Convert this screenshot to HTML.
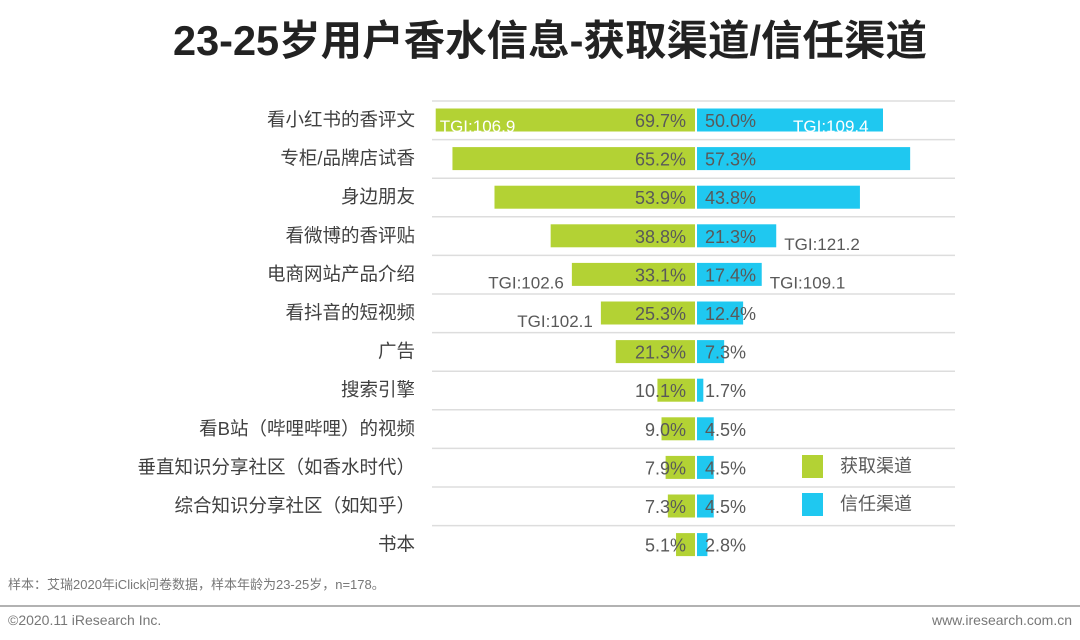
<!DOCTYPE html>
<html><head><meta charset="utf-8">
<style>
body{margin:0;width:1080px;height:635px;background:#fff;overflow:hidden;font-family:"Liberation Sans","Noto Sans CJK SC",sans-serif;}
</style></head>
<body>
<svg width="1080" height="635" xmlns="http://www.w3.org/2000/svg">
<text x="550" y="55" text-anchor="middle" font-size="41.5" font-weight="bold" fill="#222" font-family="Liberation Sans, Noto Sans CJK SC, sans-serif">23-25岁用户香水信息-获取渠道/信任渠道</text>
<g id="plot"></g>
<rect x="802" y="455" width="21" height="23" fill="#b3d234"/>
<text x="840" y="472" font-size="18" fill="#595959">获取渠道</text>
<rect x="802" y="493" width="21" height="23" fill="#1fc8f0"/>
<text x="840" y="510" font-size="18" fill="#595959">信任渠道</text>
<text x="8" y="589" font-size="13" fill="#777">样本：艾瑞2020年iClick问卷数据，样本年龄为23-25岁，n=178。</text>
<line x1="0" y1="606" x2="1080" y2="606" stroke="#999" stroke-width="1.5"/>
<text x="8" y="625" font-size="14" fill="#777">©2020.11 iResearch Inc.</text>
<text x="1072" y="625" font-size="14" fill="#777" text-anchor="end">www.iresearch.com.cn</text>
</svg>
<script>
const categories=["看小红书的香评文","专柜/品牌店试香","身边朋友","看微博的香评贴","电商网站产品介绍","看抖音的短视频","广告","搜索引擎","看B站（哔哩哔哩）的视频","垂直知识分享社区（如香水时代）","综合知识分享社区（如知乎）","书本"];
const acquire=[69.7,65.2,53.9,38.8,33.1,25.3,21.3,10.1,9.0,7.9,7.3,5.1];
const trust=[50.0,57.3,43.8,21.3,17.4,12.4,7.3,1.7,4.5,4.5,4.5,2.8];
const tgiAcquire=["106.9",null,null,null,"102.6","102.1",null,null,null,null,null,null];
const tgiTrust=["109.4",null,null,"121.2","109.1",null,null,null,null,null,null,null];
const NS="http://www.w3.org/2000/svg";
const g=document.getElementById('plot');
const cx=696, k=3.72, y0=120, step=38.6, bh=23;
const yc=i=>y0+i*step;
function mk(t,a){const e=document.createElementNS(NS,t);for(const n in a)e.setAttribute(n,a[n]);g.appendChild(e);return e;}
for(let i=0;i<categories.length;i++){
  const gl=mk('line',{x1:432,x2:955,y1:yc(i)-19,y2:yc(i)-19,stroke:'#ddd','stroke-width':1.5});
  
  
}
categories.forEach((c,i)=>{
  const y=yc(i);
  const lb=mk('text',{x:415,y:y+6,'text-anchor':'end','font-size':18.5,fill:'#404040'});lb.textContent=c;
  
  
  const wa=acquire[i]*k;
  const ba=mk('rect',{x:cx-1-wa,y:y-bh/2,width:wa,height:bh,fill:'#b3d234'});
  
  
  const wt=trust[i]*k;
  const bt=mk('rect',{x:cx+1,y:y-bh/2,width:wt,height:bh,fill:'#1fc8f0'});
  
  
  const va=mk('text',{x:cx-10,y:y+7,'text-anchor':'end','font-size':18,fill:'#595959'});va.textContent=acquire[i].toFixed(1)+'%';
  
  
  const vt=mk('text',{x:cx+9,y:y+7,'font-size':18,fill:'#595959'});vt.textContent=trust[i].toFixed(1)+'%';
  
  
  if(tgiAcquire[i]){
    const inside=i===0;
    const t=mk('text',{x:inside?cx-1-wa+4:cx-1-wa-8,y:y+(inside?12:14),'text-anchor':inside?'start':'end','font-size':17,fill:inside?'#fff':'#595959'});
    t.textContent='TGI:'+tgiAcquire[i];
    
    
  }
  if(tgiTrust[i]){
    const inside=i===0;
    const t=mk('text',{x:inside?cx+1+wt-90:cx+1+wt+8,y:y+(inside?12:14),'font-size':17,fill:inside?'#fff':'#595959'});
    t.textContent='TGI:'+tgiTrust[i];
    
    
  }
});
</script>
</body></html>
